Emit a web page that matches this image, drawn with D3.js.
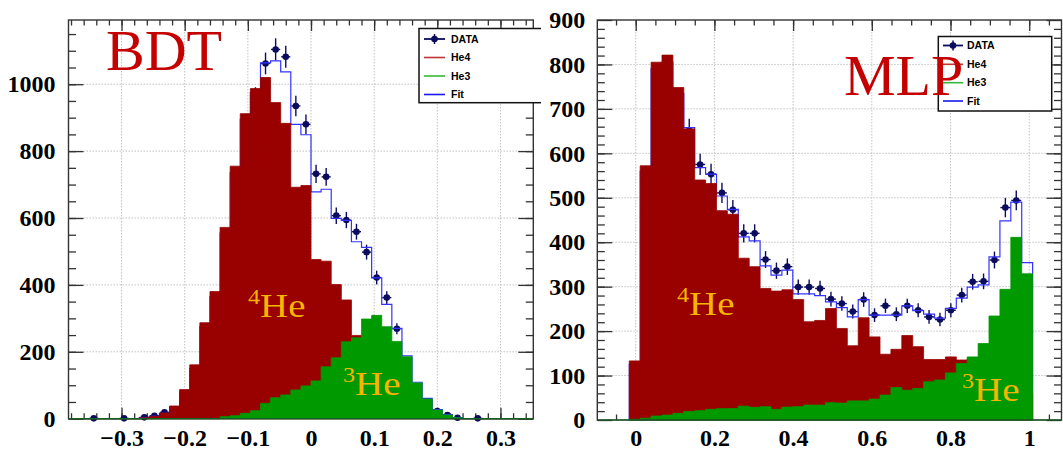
<!DOCTYPE html>
<html>
<head>
<meta charset="utf-8">
<script src="https://cdn.jsdelivr.net/npm/d3@7"></script>
<style>
  html, body { margin: 0; padding: 0; background: #fff; }
  svg { display: block; }
</style>
</head>
<body>
<svg id="chart" width="1063" height="455"></svg>
<script>
// ---------------- BDT response: 46 bins of width 0.016 from -0.384 ----------------
const bdtBinLow = -0.384;
const bdtBinWidth = 0.016;
const bdtData = [0, 0, 1, 0, 0, 1, 0, 4, 9, 19, 28, 76, 145, 265, 355, 540, 715, 870, 960, 1062,
  1104, 1082, 935, 880, 732, 723, 607, 594, 559, 498, 422, 362, 269, 170, 95, 48, 23, 11, 3, 0,
  1, 0, 0, 0, 0, 0];
const bdtHe4 = [0, 0, 0, 0, 0, 0, 0, 3, 7, 17, 38, 87, 161, 287, 380, 572, 755, 912, 987, 1020,
  945, 883, 692, 697, 476, 471, 401, 355, 249, 200, 150, 105, 70, 40, 20, 8, 3, 1, 0, 0,
  0, 0, 0, 0, 0, 0];
const bdtHe3 = [0, 0, 0, 0, 0, 0, 0, 0, 0, 0, 0, 0, 0, 0, 0, 6, 9, 16, 24, 46,
  63, 71, 86, 98, 113, 155, 182, 230, 242, 298, 309, 275, 231, 185, 107, 59, 26, 11, 3, 0,
  0, 0, 0, 0, 0, 0];
const bdtFit = [0, 0, 0, 0, 0, 0, 0, 3, 7, 16, 34, 80, 150, 275, 365, 555, 735, 895, 975, 1064,
  1070, 1037, 880, 849, 678, 686, 599, 593, 529, 512, 421, 342, 270, 188, 109, 61, 27, 12, 3, 0,
  0, 0, 0, 0, 0, 0];
const bdtXTicks = [-0.3, -0.2, -0.1, 0, 0.1, 0.2, 0.3];
const bdtXLabels = ["\u22120.3", "\u22120.2", "\u22120.1", "0", "0.1", "0.2", "0.3"];
const bdtYTicks = [0, 200, 400, 600, 800, 1000];

// ---------------- MLP response: 37 bins of width 0.0277 from -0.0163 ----------------
const mlpBinLow = -0.0163;
const mlpBinWidth = 0.0277;
const mlpData = [118, 545, 775, 790, 715, 652, 575, 553, 511, 473, 420, 420, 361, 336, 345, 299,
  299, 296, 272, 262, 244, 271, 236, 257, 238, 257, 247, 232, 226, 247, 281, 311, 312, 360,
  478, 494, 310];
const mlpHe4 = [133, 572, 805, 821, 748, 655, 540, 532, 471, 463, 364, 345, 296, 290, 293, 271,
  221, 224, 251, 206, 167, 230, 187, 148, 159, 190, 165, 136, 136, 142, 135, 138, 125, 115,
  100, 90, 60];
const mlpHe3 = [1.5, 4, 9, 11, 15, 19, 21, 24, 25.5, 26, 31, 28.5, 30, 24, 29, 30, 33.5, 33.5,
  39, 38, 43, 43, 47, 56, 73, 67, 71, 86, 90, 106, 127, 142, 172, 234, 294, 411, 329];
const mlpFit = [125, 560, 790, 805, 735, 658, 568, 553, 504, 474, 412, 403, 347, 326, 337, 284,
  284, 280, 266, 253, 232, 271, 236, 236, 236, 257, 246, 238, 229, 251, 274, 299, 304, 367,
  448, 490, 354];
const mlpXTicks = [0, 0.2, 0.4, 0.6, 0.8, 1];
const mlpXLabels = ["0", "0.2", "0.4", "0.6", "0.8", "1"];
const mlpYTicks = [0, 100, 200, 300, 400, 500, 600, 700, 800, 900];

const legendLabels = ["DATA", "He4", "He3", "Fit"];

// ---------------- styling ----------------
const SERIF = "'Liberation Serif','Times New Roman',Times,serif";
const SANS = "'Liberation Sans',Arial,Helvetica,sans-serif";
const COL = {
  he4: "#990000", he3: "#009900", fit: "#3333ff", data: "#0c0c5e",
  frame: "#333333", grid: "#c2c2c2", title: "#c40000", iso: "#f7b500",
  legHe4: "#c03535", legHe3: "#35b835", legFit: "#1a1aee"
};

const svg = d3.select("#chart");

function drawPanel(p) {
  const g = svg.append("g");
  const x = d3.scaleLinear().domain(p.xDomain).range([p.left, p.right]);
  const y = d3.scaleLinear().domain(p.yDomain).range([p.bottom, p.top]);

  // dotted grid at the major ticks
  g.append("g").selectAll("line")
    .data(p.xTicks.filter(v => x(v) > p.left + 1 && x(v) < p.right - 1))
    .join("line")
    .attr("x1", d => x(d)).attr("x2", d => x(d))
    .attr("y1", p.top).attr("y2", p.bottom)
    .attr("stroke", COL.grid).attr("stroke-width", 1).attr("stroke-dasharray", "1.5,1.5");
  g.append("g").selectAll("line")
    .data(p.yTicks.filter(v => y(v) < p.bottom - 1 && y(v) > p.top + 1))
    .join("line")
    .attr("y1", d => y(d)).attr("y2", d => y(d))
    .attr("x1", p.left).attr("x2", p.right)
    .attr("stroke", COL.grid).attr("stroke-width", 1).attr("stroke-dasharray", "1.5,1.5");

  // inward ticks on all four sides, labels on bottom and left
  const xMinor = d3.range(p.xMinorStart, p.xDomain[1], p.xMinorStep)
    .map(v => +v.toFixed(4)).filter(v => v > p.xDomain[0] && v < p.xDomain[1]);
  const yMinor = d3.range(p.yMinorStep, p.yDomain[1], p.yMinorStep);
  const styleAxis = sel => {
    sel.select(".domain").remove();
    sel.selectAll("line").attr("stroke", COL.frame).attr("stroke-width", 1.3);
    sel.selectAll("text")
      .attr("font-family", SERIF).attr("font-size", p.labelSize)
      .attr("font-weight", "bold").attr("fill", "#000");
  };
  g.append("g").attr("transform", `translate(0,${p.bottom})`)
    .call(d3.axisBottom(x).tickValues(xMinor).tickSize(-p.xMinorLen).tickFormat(""))
    .call(styleAxis);
  g.append("g").attr("transform", `translate(0,${p.bottom})`)
    .call(d3.axisBottom(x).tickValues(p.xTicks).tickSize(-p.xMajorLen)
      .tickPadding(p.xLabelPad).tickFormat((d, i) => p.xLabels[i]))
    .call(styleAxis);
  g.append("g").attr("transform", `translate(0,${p.top})`)
    .call(d3.axisTop(x).tickValues(xMinor).tickSize(-p.xMinorLen).tickFormat(""))
    .call(styleAxis);
  g.append("g").attr("transform", `translate(0,${p.top})`)
    .call(d3.axisTop(x).tickValues(p.xTicks).tickSize(-p.xMajorLen).tickFormat(""))
    .call(styleAxis);
  g.append("g").attr("transform", `translate(${p.left},0)`)
    .call(d3.axisLeft(y).tickValues(yMinor).tickSize(-p.yMinorLen).tickFormat(""))
    .call(styleAxis);
  g.append("g").attr("transform", `translate(${p.left},0)`)
    .call(d3.axisLeft(y).tickValues(p.yTicks).tickSize(-p.yMajorLen)
      .tickPadding(p.yLabelPad).tickFormat(d3.format("d")))
    .call(styleAxis);
  g.append("g").attr("transform", `translate(${p.right},0)`)
    .call(d3.axisRight(y).tickValues(yMinor).tickSize(-p.yMinorLen).tickFormat(""))
    .call(styleAxis);
  g.append("g").attr("transform", `translate(${p.right},0)`)
    .call(d3.axisRight(y).tickValues(p.yTicks).tickSize(-p.yMajorLen).tickFormat(""))
    .call(styleAxis);

  // histogram bins
  const bins = p.he4.map((_, i) => ({
    lo: p.binLow + i * p.binWidth,
    hi: p.binLow + (i + 1) * p.binWidth,
    data: p.data[i], he4: p.he4[i], he3: p.he3[i], fit: p.fit[i]
  }));
  const stepPoints = key => {
    const pts = [[bins[0].lo, 0]];
    bins.forEach(b => { pts.push([b.lo, b[key]], [b.hi, b[key]]); });
    pts.push([bins[bins.length - 1].hi, 0]);
    return pts;
  };
  const step = d3.line().x(d => x(d[0])).y(d => y(d[1]));

  // data points with Poisson error bars
  const pts = g.append("g").selectAll("g")
    .data(bins.filter(b => b.data > 0)).join("g");
  pts.append("line")
    .attr("x1", b => x((b.lo + b.hi) / 2)).attr("x2", b => x((b.lo + b.hi) / 2))
    .attr("y1", b => y(b.data - Math.sqrt(b.data))).attr("y2", b => y(b.data + Math.sqrt(b.data)))
    .attr("stroke", COL.data).attr("stroke-width", 1.4);
  pts.append("line")
    .attr("x1", b => x(b.lo) + 0.5).attr("x2", b => x(b.hi) - 0.5)
    .attr("y1", b => y(b.data)).attr("y2", b => y(b.data))
    .attr("stroke", COL.data).attr("stroke-width", 1.4);
  pts.append("circle")
    .attr("cx", b => x((b.lo + b.hi) / 2)).attr("cy", b => y(b.data))
    .attr("r", 3.3).attr("fill", COL.data);

  // fit result
  g.append("path").attr("d", step(stepPoints("fit")))
    .attr("fill", "none").attr("stroke", COL.fit).attr("stroke-width", 1.2);

  // templates: He4 first, He3 drawn over it
  g.append("path").attr("d", step(stepPoints("he4")) + "Z")
    .attr("fill", COL.he4).attr("stroke", COL.he4).attr("stroke-width", 0.8);
  g.append("path").attr("d", step(stepPoints("he3")) + "Z")
    .attr("fill", COL.he3).attr("stroke", COL.he3).attr("stroke-width", 0.8);

  // frame
  g.append("rect")
    .attr("x", p.left).attr("y", p.top)
    .attr("width", p.right - p.left).attr("height", p.bottom - p.top)
    .attr("fill", "none").attr("stroke", COL.frame).attr("stroke-width", 1.4);
  g.append("line")
    .attr("x1", p.left).attr("x2", p.right).attr("y1", p.bottom).attr("y2", p.bottom)
    .attr("stroke", "#0b6b1e").attr("stroke-width", 1);

  // legend
  const L = p.legend;
  const lg = g.append("g");
  lg.append("rect").attr("x", L.x0).attr("y", L.y0)
    .attr("width", L.x1 - L.x0).attr("height", L.y1 - L.y0)
    .attr("fill", "#fff").attr("stroke", "#111").attr("stroke-width", 1.5);
  const rowColors = [COL.data, COL.legHe4, COL.legHe3, COL.legFit];
  legendLabels.forEach((lab, i) => {
    const ry = L.rows[i];
    lg.append("line").attr("x1", L.lx0).attr("x2", L.lx1).attr("y1", ry).attr("y2", ry)
      .attr("stroke", rowColors[i]).attr("stroke-width", i === 0 ? 1.8 : 1.6);
    if (i === 0) {
      const cx = (L.lx0 + L.lx1) / 2;
      lg.append("line").attr("x1", cx).attr("x2", cx).attr("y1", ry - 5).attr("y2", ry + 5)
        .attr("stroke", COL.data).attr("stroke-width", 1.5);
      lg.append("circle").attr("cx", cx).attr("cy", ry).attr("r", 3.3).attr("fill", COL.data);
    }
    lg.append("text").attr("x", L.tx).attr("y", ry).attr("dy", "0.36em")
      .attr("font-family", SANS).attr("font-weight", "bold").attr("font-size", 10.5)
      .attr("fill", "#000").text(lab);
  });

  // method name
  g.append("text").attr("x", p.title.x).attr("y", p.title.y)
    .attr("font-family", SERIF).attr("font-size", 58).attr("fill", COL.title)
    .text(p.title.text);

  // isotope labels
  p.isotopes.forEach(iso => {
    const t = g.append("g").attr("transform", `translate(${iso.x},${iso.y}) scale(1.18,1)`)
      .append("text").attr("font-family", SERIF).attr("font-size", iso.size).attr("fill", COL.iso);
    t.append("tspan").attr("font-size", iso.size * 0.62).attr("dy", -iso.size * 0.38).text(iso.mass);
    t.append("tspan").attr("dy", iso.size * 0.38).text("He");
  });
}

// left: BDT
drawPanel({
  left: 68.5, right: 533.3, top: 20, bottom: 418.7,
  xDomain: [-0.384, 0.352], yDomain: [0, 1192],
  xTicks: bdtXTicks, xLabels: bdtXLabels, yTicks: bdtYTicks,
  xMinorStart: -0.38, xMinorStep: 0.02, yMinorStep: 50,
  xMajorLen: 11, xMinorLen: 5.5, yMajorLen: 15, yMinorLen: 7.5,
  xLabelPad: 10, yLabelPad: 13, labelSize: 24,
  binLow: bdtBinLow, binWidth: bdtBinWidth,
  data: bdtData, he4: bdtHe4, he3: bdtHe3, fit: bdtFit,
  legend: { x0: 419, x1: 560, y0: 28.5, y1: 102.7, lx0: 424, lx1: 445, tx: 451, rows: [39, 57.5, 76, 94.5] },
  title: { text: "BDT", x: 106, y: 70 },
  isotopes: [{ mass: "4", x: 248, y: 317, size: 33 }, { mass: "3", x: 343, y: 395, size: 33 }]
});

// the second canvas sits on a white background of its own
svg.append("rect").attr("x", 541).attr("y", 0).attr("width", 522).attr("height", 455).attr("fill", "#fff");

// right: MLP
drawPanel({
  left: 597.3, right: 1061.5, top: 20, bottom: 420,
  xDomain: [-0.0976, 1.082], yDomain: [0, 900],
  xTicks: mlpXTicks, xLabels: mlpXLabels, yTicks: mlpYTicks,
  xMinorStart: -0.05, xMinorStep: 0.05, yMinorStep: 20,
  xMajorLen: 11, xMinorLen: 5.5, yMajorLen: 15, yMinorLen: 7.5,
  xLabelPad: 9, yLabelPad: 12, labelSize: 24,
  binLow: mlpBinLow, binWidth: mlpBinWidth,
  data: mlpData, he4: mlpHe4, he3: mlpHe3, fit: mlpFit,
  legend: { x0: 938.3, x1: 1051.7, y0: 36.5, y1: 111, lx0: 943, lx1: 963, tx: 967, rows: [45.5, 64.3, 82.7, 101] },
  title: { text: "MLP", x: 844, y: 95 },
  isotopes: [{ mass: "4", x: 677, y: 315, size: 33 }, { mass: "3", x: 962, y: 401, size: 33 }]
});
</script>
</body>
</html>
